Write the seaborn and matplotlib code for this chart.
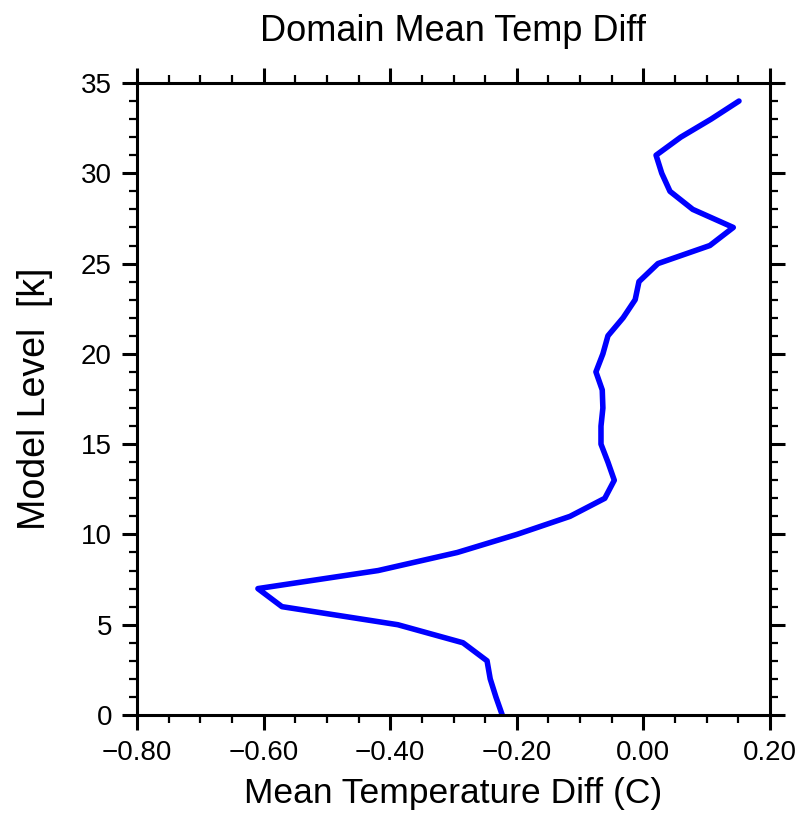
import matplotlib
matplotlib.use("Agg")
import matplotlib.pyplot as plt
from matplotlib.ticker import MultipleLocator, FuncFormatter
import seaborn as sns
import pandas as pd

levels = list(range(35))
temp_diff = [-0.223, -0.233, -0.242, -0.247, -0.285, -0.388, -0.571, -0.609,
             -0.419, -0.294, -0.200, -0.116, -0.061, -0.046, -0.056, -0.067,
             -0.067, -0.064, -0.065, -0.075, -0.064, -0.056, -0.032, -0.013,
             -0.007, 0.023, 0.105, 0.142, 0.078, 0.042, 0.029, 0.020,
             0.059, 0.107, 0.151]

title = "Domain Mean Temp Diff"
xlabel = "Mean Temperature Diff (C)"
ylabel = "Model Level  [k]"

sns.set_theme(style="ticks")
plt.rcParams['font.family'] = ['Liberation Sans', 'DejaVu Sans']
plt.rcParams['text.color'] = 'black'
plt.rcParams['axes.labelcolor'] = 'black'
plt.rcParams['xtick.labelcolor'] = 'black'
plt.rcParams['ytick.labelcolor'] = 'black'

df = pd.DataFrame({"level": levels, "diff": temp_diff})

fig = plt.figure(figsize=(8.02, 8.30), dpi=100)
ax = fig.add_axes([137/802, 115/830, 633/802, 632/830])
sns.lineplot(data=df, x="diff", y="level", sort=False, estimator=None,
             color="#0000ff", linewidth=4.0, ax=ax)

ax.set_xlim(-0.8, 0.2)
ax.set_ylim(0, 35)
ax.xaxis.set_major_locator(MultipleLocator(0.2))
ax.xaxis.set_minor_locator(MultipleLocator(0.05))
ax.yaxis.set_major_locator(MultipleLocator(5))
ax.yaxis.set_minor_locator(MultipleLocator(1))
ax.xaxis.set_major_formatter(FuncFormatter(lambda v, p: f"{v:.2f}".replace("-", "\u2212")))
ax.tick_params(which="both", direction="out", top=True, right=True,
               labeltop=False, labelright=False, color="black")
ax.tick_params(which="major", length=11, width=2.2, labelsize=20, pad=7)
ax.tick_params(which="minor", length=6, width=1.6)
for s in ax.spines.values():
    s.set_linewidth(2.2)
    s.set_color("black")
    s.set_visible(True)

ax.set_title(title, fontsize=26, pad=30, color="black")
ax.set_xlabel(xlabel, fontsize=25.5, labelpad=8)
ax.set_ylabel(ylabel, fontsize=27, labelpad=20)

fig.savefig("out.png", dpi=100, facecolor="white")
